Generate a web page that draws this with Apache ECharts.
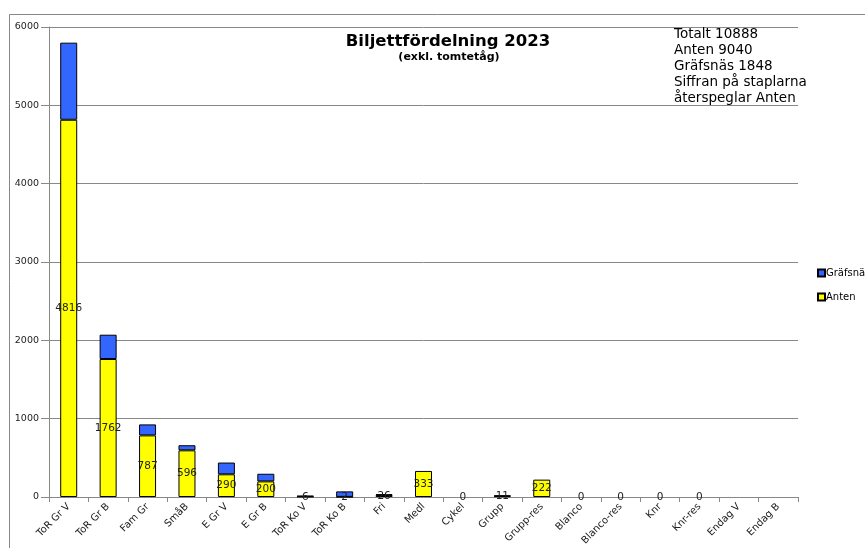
<!DOCTYPE html>
<html>
<head>
<meta charset="utf-8">
<script src="https://cdn.jsdelivr.net/npm/echarts@6/dist/echarts.min.js"></script>
<style>
html,body{margin:0;padding:0;background:#fff;}
#c{width:865px;height:548px;}
</style>
</head>
<body>
<div id="c"></div>
<script>
const categories = ['ToR Gr V','ToR Gr B','Fam Gr','SmåB','E Gr V','E Gr B','ToR Ko V','ToR Ko B','Fri','Medl','Cykel','Grupp','Grupp-res','Blanco','Blanco-res','Knr','Knr-res','Endag V','Endag B'];
const anten = [4816,1762,787,596,290,200,6,2,26,333,0,11,222,0,0,0,0,null,null];
const grafsnas = [984,310,140,65,150,97,10,70,12,0,0,10,0,0,0,0,0,null,null];
const yTicks = [0,1000,2000,3000,4000,5000,6000];
const infoLines = ['Totalt 10888','Anten 9040','Gräfsnäs 1848','Siffran på staplarna','återspeglar Anten'];

const FONT = 'DejaVu Sans';
const toItems = arr => arr.map(v => v === 0 ? {value:0, itemStyle:{borderWidth:0}} : v);

const chart = echarts.init(document.getElementById('c'));
chart.setOption({
  animation:false,
  backgroundColor:'#fff',
  title:[
    {text:'Biljettfördelning 2023', left:448, top:33, textAlign:'center', padding:0,
     textStyle:{fontFamily:FONT,fontWeight:'bold',fontSize:16.5,color:'#000'}},
    {text:'(exkl. tomtetåg)', left:449, top:52, textAlign:'center', padding:0,
     textStyle:{fontFamily:FONT,fontWeight:'bold',fontSize:11,color:'#000'}},
    {text:infoLines.join('\n'), left:674, top:26, padding:0,
     textStyle:{fontFamily:FONT,fontWeight:'normal',fontSize:13.5,lineHeight:16,color:'#000'}}
  ],
  legend:{
    orient:'vertical', left:817, top:268, padding:0, itemWidth:7, itemHeight:7, itemGap:14,
    data:['Gräfsnäs','Anten'],
    textStyle:{fontFamily:FONT,fontSize:10,color:'#000',padding:[0,0,0,-4]},
    icon:'rect'
  },
  grid:{left:49,right:67,top:27,bottom:50,containLabel:false},
  xAxis:{
    type:'category', data:categories,
    axisLine:{lineStyle:{color:'#888',width:1}},
    axisTick:{show:true,length:5,lineStyle:{color:'#888'}},
    axisLabel:{rotate:45,fontFamily:FONT,fontSize:10,color:'#222',margin:8}
  },
  yAxis:{
    type:'value', min:yTicks[0], max:yTicks[yTicks.length-1], interval:1000,
    axisLine:{show:true,lineStyle:{color:'#888'}},
    axisTick:{show:true,length:8,lineStyle:{color:'#888'}},
    axisLabel:{fontFamily:FONT,fontSize:9.5,color:'#222',margin:10,formatter:v=>String(v)},
    splitLine:{lineStyle:{color:'#888',width:1}}
  },
  series:[
    {name:'Anten', type:'bar', stack:'s', data:toItems(anten), barWidth:17,
     itemStyle:{color:'#FFFF00',borderColor:'#000',borderWidth:1},
     label:{show:true,position:'inside',fontFamily:FONT,fontSize:10.5,color:'#222',
       formatter:p=>p.value==null?'':String(p.value)}},
    {name:'Gräfsnäs', type:'bar', stack:'s', data:toItems(grafsnas), barWidth:17,
     itemStyle:{color:'#3366FF',borderColor:'#000',borderWidth:1}}
  ],
  graphic:[
    {type:'rect', shape:{x:9.5,y:14.5,width:900,height:600}, silent:true, z:-1,
     style:{fill:null,stroke:'#888',lineWidth:1}}
  ]
});
</script>
</body>
</html>
